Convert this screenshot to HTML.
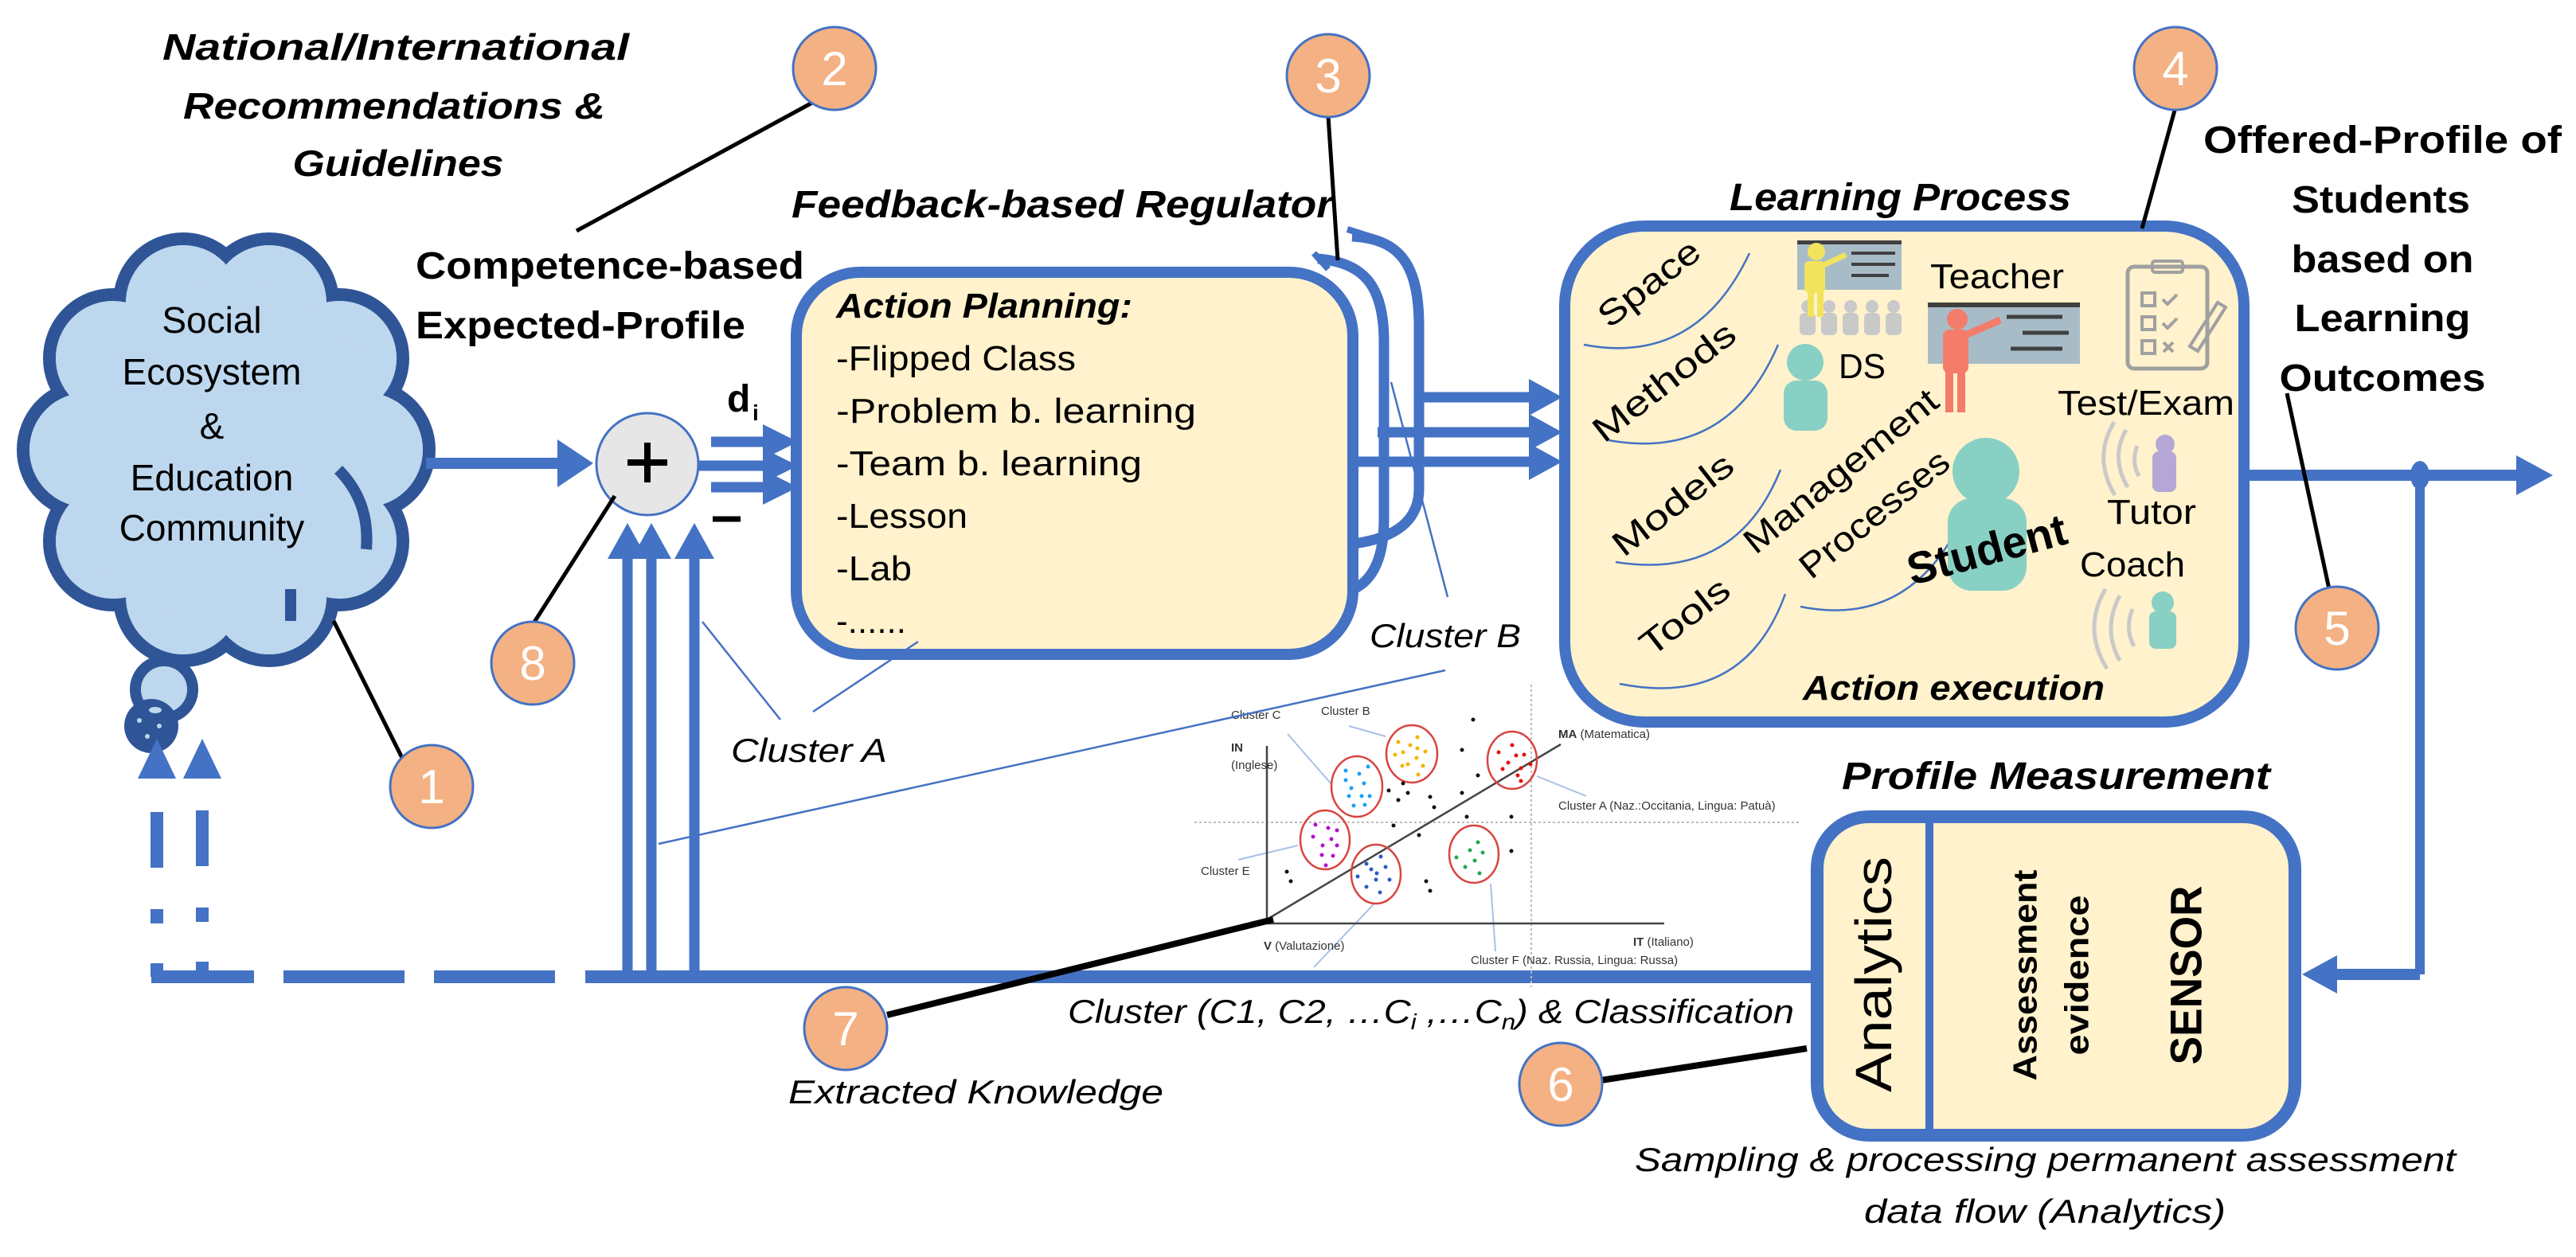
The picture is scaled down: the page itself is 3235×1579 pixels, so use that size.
<!DOCTYPE html>
<html><head><meta charset="utf-8"><style>
html,body{margin:0;padding:0;background:#fff;}
svg{display:block;}
text{font-family:"Liberation Sans",sans-serif;}
</style></head><body>
<svg width="3235" height="1579" viewBox="0 0 3235 1579" xmlns="http://www.w3.org/2000/svg">
<rect width="3235" height="1579" fill="#fff"/>

<!-- Cloud -->
<g stroke="#2F5597" stroke-width="16" fill="#BDD7EE">
<circle cx="459" cy="565" r="80"/><circle cx="426" cy="680" r="80"/><circle cx="338" cy="750" r="80"/><circle cx="230" cy="750" r="80"/><circle cx="142" cy="680" r="80"/><circle cx="109" cy="565" r="80"/><circle cx="142" cy="450" r="80"/><circle cx="230" cy="380" r="80"/><circle cx="338" cy="380" r="80"/><circle cx="426" cy="450" r="80"/>
</g>
<g fill="#BDD7EE">
<circle cx="459" cy="565" r="72"/><circle cx="426" cy="680" r="72"/><circle cx="338" cy="750" r="72"/><circle cx="230" cy="750" r="72"/><circle cx="142" cy="680" r="72"/><circle cx="109" cy="565" r="72"/><circle cx="142" cy="450" r="72"/><circle cx="230" cy="380" r="72"/><circle cx="338" cy="380" r="72"/><circle cx="426" cy="450" r="72"/>
<ellipse cx="284" cy="565" rx="200" ry="215"/>
</g>
<g fill="none" stroke="#2F5597" stroke-width="14">
<path d="M425,590 Q465,630 460,690"/>
<path d="M365,740 L365,780"/>
</g>
<circle cx="206" cy="866" r="36" fill="#BDD7EE" stroke="#2F5597" stroke-width="14"/>
<circle cx="190" cy="912" r="34" fill="#2F5597"/>
<g fill="#BDD7EE"><ellipse cx="195" cy="892" rx="8" ry="4"/><circle cx="175" cy="905" r="3"/><circle cx="200" cy="912" r="3"/><circle cx="185" cy="925" r="3"/></g>
<g font-size="46" text-anchor="middle" fill="#000">
<text x="266" y="418">Social</text>
<text x="266" y="483">Ecosystem</text>
<text x="266" y="551">&amp;</text>
<text x="266" y="616">Education</text>
<text x="266" y="679">Community</text>
</g>

<!-- Top-left texts -->
<g font-weight="bold" font-style="italic" font-size="46" text-anchor="middle">
<text x="497" y="75" textLength="586" lengthAdjust="spacingAndGlyphs">National/International</text>
<text x="495" y="149" textLength="530" lengthAdjust="spacingAndGlyphs">Recommendations &amp;</text>
<text x="500" y="221" textLength="265" lengthAdjust="spacingAndGlyphs">Guidelines</text>
</g>
<g font-weight="bold" font-size="48">
<text x="522" y="350" textLength="488" lengthAdjust="spacingAndGlyphs">Competence-based</text>
<text x="522" y="425" textLength="414" lengthAdjust="spacingAndGlyphs">Expected-Profile</text>
</g>
<text x="994" y="273" font-weight="bold" font-style="italic" font-size="48" textLength="680" lengthAdjust="spacingAndGlyphs">Feedback-based Regulator</text>
<text x="2172" y="264" font-weight="bold" font-style="italic" font-size="48" textLength="429" lengthAdjust="spacingAndGlyphs">Learning Process</text>
<g font-weight="bold" font-size="48" text-anchor="middle">
<text x="2992" y="192" textLength="450" lengthAdjust="spacingAndGlyphs">Offered-Profile of</text>
<text x="2990" y="267" textLength="224" lengthAdjust="spacingAndGlyphs">Students</text>
<text x="2992" y="342" textLength="229" lengthAdjust="spacingAndGlyphs">based on</text>
<text x="2992" y="416" textLength="221" lengthAdjust="spacingAndGlyphs">Learning</text>
<text x="2992" y="491" textLength="259" lengthAdjust="spacingAndGlyphs">Outcomes</text>
</g>

<!-- Blue connectors -->
<g stroke="#4472C4" fill="none">
<line x1="535" y1="582" x2="705" y2="582" stroke-width="14"/>
<line x1="893" y1="555" x2="965" y2="555" stroke-width="13"/>
<line x1="878" y1="585" x2="965" y2="585" stroke-width="13"/>
<line x1="893" y1="612" x2="965" y2="612" stroke-width="13"/>
<line x1="788" y1="1233" x2="788" y2="700" stroke-width="13"/>
<line x1="818" y1="1233" x2="818" y2="700" stroke-width="13"/>
<line x1="872" y1="1233" x2="872" y2="700" stroke-width="13"/>
<line x1="735" y1="1227" x2="2282" y2="1227" stroke-width="16"/>
<line x1="190" y1="1227" x2="319" y2="1227" stroke-width="16"/>
<line x1="356" y1="1227" x2="508" y2="1227" stroke-width="16"/>
<line x1="545" y1="1227" x2="697" y2="1227" stroke-width="16"/>
<line x1="197" y1="1020" x2="197" y2="1090" stroke-width="16"/>
<line x1="254" y1="1018" x2="254" y2="1088" stroke-width="16"/>
<line x1="197" y1="1142" x2="197" y2="1160" stroke-width="16"/>
<line x1="254" y1="1140" x2="254" y2="1158" stroke-width="16"/>
<line x1="197" y1="1210" x2="197" y2="1227" stroke-width="16"/>
<line x1="254" y1="1208" x2="254" y2="1227" stroke-width="16"/>
<line x1="1782" y1="499" x2="1925" y2="499" stroke-width="13"/>
<line x1="1730" y1="543" x2="1925" y2="543" stroke-width="13"/>
<line x1="1700" y1="580" x2="1925" y2="580" stroke-width="13"/>
<path d="M1655,325 C1710,330 1738,355 1738,430 L1738,652 Q1738,722 1700,740" stroke-width="13"/>
<path d="M1698,297 C1760,300 1782,335 1782,410 L1782,614 Q1782,672 1700,683" stroke-width="13"/>
<line x1="1650" y1="318" x2="1668" y2="338" stroke-width="8"/>
<line x1="1692" y1="288" x2="1730" y2="300" stroke-width="8"/>
<line x1="2818" y1="597" x2="3165" y2="597" stroke-width="14"/>
<line x1="3039" y1="597" x2="3039" y2="1224" stroke-width="12"/>
<line x1="3039" y1="1224" x2="2930" y2="1224" stroke-width="14"/>
</g>
<g fill="#4472C4">
<polygon points="700,552 745,582 700,612"/>
<polygon points="958,533 1002,555 958,577"/>
<polygon points="958,563 1002,585 958,607"/>
<polygon points="958,590 1002,612 958,634"/>
<polygon points="763,702 788,657 813,702"/>
<polygon points="793,702 818,657 843,702"/>
<polygon points="847,702 872,657 897,702"/>
<polygon points="173,978 197,928 221,978"/>
<polygon points="230,978 254,928 278,978"/>
<polygon points="1920,476 1962,499 1920,522"/>
<polygon points="1920,520 1962,543 1920,566"/>
<polygon points="1920,557 1962,580 1920,603"/>
<polygon points="3160,572 3206,597 3160,622"/>
<polygon points="2935,1200 2891,1224 2935,1248"/>
<ellipse cx="3039" cy="597" rx="12" ry="18"/>
</g>

<!-- Sum node -->
<circle cx="813" cy="583" r="64" fill="#E7E6E6" stroke="#4472C4" stroke-width="3"/>
<g stroke="#000" stroke-width="8"><line x1="788" y1="581" x2="838" y2="581"/><line x1="813" y1="556" x2="813" y2="606"/></g>
<text x="913" y="517" font-weight="bold" font-size="48">d</text>
<text x="945" y="528" font-weight="bold" font-size="28">i</text>
<line x1="895" y1="652" x2="930" y2="652" stroke="#000" stroke-width="7"/>

<!-- Action planning box -->
<rect x="1000" y="342" width="699" height="480" rx="80" fill="#FFF2CC" stroke="#4472C4" stroke-width="14"/>
<text x="1050" y="399" font-weight="bold" font-style="italic" font-size="44" textLength="372" lengthAdjust="spacingAndGlyphs">Action Planning:</text>
<g font-size="44">
<text x="1050" y="465" textLength="301" lengthAdjust="spacingAndGlyphs">-Flipped Class</text>
<text x="1050" y="531" textLength="452" lengthAdjust="spacingAndGlyphs">-Problem b. learning</text>
<text x="1050" y="597" textLength="384" lengthAdjust="spacingAndGlyphs">-Team b. learning</text>
<text x="1050" y="663" textLength="165" lengthAdjust="spacingAndGlyphs">-Lesson</text>
<text x="1050" y="729" textLength="95" lengthAdjust="spacingAndGlyphs">-Lab</text>
<text x="1050" y="795">-......</text>
</g>

<!-- Learning box -->
<rect x="1965" y="284" width="853" height="623" rx="100" fill="#FFF2CC" stroke="#4472C4" stroke-width="14"/>
<g fill="none" stroke="#4472C4" stroke-width="2.5">
<path d="M2197,318 Q2130,460 1989,433"/>
<path d="M2233,433 Q2170,580 2020,553"/>
<path d="M2236,590 Q2180,730 2029,706"/>
<path d="M2242,746 Q2190,890 2034,859"/>
<path d="M2466,648 Q2400,790 2261,762"/>
</g>
<g font-size="44" text-anchor="middle" dominant-baseline="central">
<text transform="translate(2071,356) rotate(-38)" textLength="150" lengthAdjust="spacingAndGlyphs">Space</text>
<text transform="translate(2090,480) rotate(-38)" textLength="215" lengthAdjust="spacingAndGlyphs">Methods</text>
<text transform="translate(2101,634) rotate(-38)" textLength="180" lengthAdjust="spacingAndGlyphs">Models</text>
<text transform="translate(2116,775) rotate(-38)" textLength="130" lengthAdjust="spacingAndGlyphs">Tools</text>
<text transform="translate(2312,592) rotate(-39)" textLength="300" lengthAdjust="spacingAndGlyphs">Management</text>
<text transform="translate(2354,646) rotate(-39)" textLength="228" lengthAdjust="spacingAndGlyphs">Processes</text>
</g>
<!-- icons -->
<rect x="2257" y="304" width="131" height="60" fill="#A8BCC8"/>
<rect x="2257" y="302" width="131" height="5" fill="#404040"/>
<g stroke="#404040" stroke-width="4"><line x1="2325" y1="318" x2="2380" y2="318"/><line x1="2325" y1="332" x2="2380" y2="332"/><line x1="2325" y1="346" x2="2372" y2="346"/></g>
<g fill="#C9C9C9">
<circle cx="2270" cy="385" r="8"/><rect x="2260" y="393" width="20" height="28" rx="6"/>
<circle cx="2297" cy="385" r="8"/><rect x="2287" y="393" width="20" height="28" rx="6"/>
<circle cx="2324" cy="385" r="8"/><rect x="2314" y="393" width="20" height="28" rx="6"/>
<circle cx="2351" cy="385" r="8"/><rect x="2341" y="393" width="20" height="28" rx="6"/>
<circle cx="2378" cy="385" r="8"/><rect x="2368" y="393" width="20" height="28" rx="6"/>
</g>
<g fill="#F2E35C"><circle cx="2281" cy="316" r="11"/><rect x="2266" y="328" width="26" height="40" rx="6"/><rect x="2270" y="360" width="8" height="38"/><rect x="2282" y="360" width="8" height="38"/></g>
<line x1="2288" y1="334" x2="2318" y2="320" stroke="#F2E35C" stroke-width="7"/>
<rect x="2421" y="382" width="191" height="75" fill="#A8BCC8"/>
<rect x="2421" y="380" width="191" height="6" fill="#404040"/>
<g stroke="#404040" stroke-width="5"><line x1="2520" y1="398" x2="2590" y2="398"/><line x1="2540" y1="418" x2="2598" y2="418"/><line x1="2525" y1="438" x2="2590" y2="438"/></g>
<g fill="#F47C6B"><circle cx="2458" cy="401" r="13"/><rect x="2440" y="414" width="32" height="55" rx="8"/><rect x="2443" y="460" width="10" height="58"/><rect x="2458" y="460" width="10" height="58"/></g>
<line x1="2466" y1="422" x2="2512" y2="402" stroke="#F47C6B" stroke-width="9"/>
<g fill="#88D0C4"><circle cx="2267" cy="455" r="23"/><rect x="2240" y="478" width="55" height="63" rx="16"/></g>
<rect x="2672" y="335" width="100" height="128" rx="8" fill="none" stroke="#A0A0A0" stroke-width="5"/>
<rect x="2703" y="328" width="38" height="14" rx="3" fill="none" stroke="#A0A0A0" stroke-width="4"/>
<g fill="none" stroke="#A0A0A0" stroke-width="4"><rect x="2690" y="368" width="16" height="16"/><rect x="2690" y="398" width="16" height="16"/><rect x="2690" y="428" width="16" height="16"/><path d="M2716,376 l6,6 l12,-12"/><path d="M2716,406 l6,6 l12,-12"/><path d="M2717,430 l12,12 M2729,430 l-12,12"/><path d="M2750,435 l35,-55 l10,6 l-35,55 z"/></g>
<g fill="#88D0C4"><ellipse cx="2494" cy="592" rx="42" ry="42"/><rect x="2446" y="626" width="99" height="116" rx="30"/></g>
<g fill="#B4A7D6"><circle cx="2719" cy="558" r="12"/><rect x="2703" y="567" width="30" height="51" rx="8"/></g>
<g fill="#88D0C4"><circle cx="2716" cy="757" r="14"/><rect x="2699" y="768" width="34" height="47" rx="8"/></g>
<g fill="none" stroke="#C9C9C9" stroke-width="5">
<path d="M2670,540 Q2650,575 2672,612"/><path d="M2655,530 Q2628,575 2656,622"/><path d="M2684,560 Q2676,580 2686,598"/>
<path d="M2662,748 Q2640,790 2662,830"/><path d="M2644,740 Q2615,790 2646,840"/><path d="M2678,765 Q2668,790 2680,812"/>
</g>
<text transform="translate(2495,690) rotate(-15)" font-weight="bold" font-size="56" text-anchor="middle" dominant-baseline="central" textLength="205" lengthAdjust="spacingAndGlyphs">Student</text>
<g font-size="44">
<text x="2424" y="362" textLength="168" lengthAdjust="spacingAndGlyphs">Teacher</text>
<text x="2309" y="475" textLength="59" lengthAdjust="spacingAndGlyphs">DS</text>
<text x="2584" y="521" textLength="222" lengthAdjust="spacingAndGlyphs">Test/Exam</text>
<text x="2646" y="658" textLength="112" lengthAdjust="spacingAndGlyphs">Tutor</text>
<text x="2612" y="724" textLength="132" lengthAdjust="spacingAndGlyphs">Coach</text>
</g>
<text x="2264" y="879" font-weight="bold" font-style="italic" font-size="44" textLength="379" lengthAdjust="spacingAndGlyphs">Action execution</text>

<!-- Profile measurement -->
<text x="2313" y="991" font-weight="bold" font-style="italic" font-size="48" textLength="538" lengthAdjust="spacingAndGlyphs">Profile Measurement</text>
<rect x="2282" y="1026" width="600" height="400" rx="65" fill="#FFF2CC" stroke="#4472C4" stroke-width="16"/>
<line x1="2423" y1="1026" x2="2423" y2="1426" stroke="#4472C4" stroke-width="10"/>
<text transform="translate(2353,1224) rotate(-90)" font-size="64" text-anchor="middle" dominant-baseline="central" textLength="296" lengthAdjust="spacingAndGlyphs">Analytics</text>
<text transform="translate(2543,1225) rotate(-90)" font-weight="bold" font-size="42" text-anchor="middle" dominant-baseline="central" textLength="265" lengthAdjust="spacingAndGlyphs">Assessment</text>
<text transform="translate(2608,1225) rotate(-90)" font-weight="bold" font-size="42" text-anchor="middle" dominant-baseline="central" textLength="201" lengthAdjust="spacingAndGlyphs">evidence</text>
<text transform="translate(2745,1225) rotate(-90)" font-weight="bold" font-size="56" text-anchor="middle" dominant-baseline="central" textLength="225" lengthAdjust="spacingAndGlyphs">SENSOR</text>
<g font-style="italic" font-size="42">
<text x="2053" y="1471" textLength="1031" lengthAdjust="spacingAndGlyphs">Sampling &amp; processing permanent assessment</text>
<text x="2341" y="1536" textLength="454" lengthAdjust="spacingAndGlyphs">data flow (Analytics)</text>
</g>

<!-- Scatter plot -->
<g stroke="#BBBBBB" stroke-width="2" stroke-dasharray="3,3"><line x1="1500" y1="1033" x2="2260" y2="1033"/><line x1="1923" y1="860" x2="1923" y2="1240"/></g>
<g stroke="#A9C0E8" stroke-width="2"><line x1="1617" y1="922" x2="1672" y2="985"/><line x1="1694" y1="912" x2="1740" y2="925"/><line x1="1930" y1="975" x2="1992" y2="1000"/><line x1="1555" y1="1080" x2="1630" y2="1062"/><line x1="1725" y1="1136" x2="1650" y2="1215"/><line x1="1872" y1="1110" x2="1878" y2="1195"/></g>
<g stroke="#444" stroke-width="2.5"><line x1="1591" y1="1160" x2="1591" y2="937"/><line x1="1591" y1="1160" x2="2090" y2="1160"/><line x1="1591" y1="1155" x2="1960" y2="935"/></g>
<g fill="none" stroke="#D9443F" stroke-width="2.5">
<ellipse cx="1704" cy="988" rx="32" ry="38"/><ellipse cx="1773" cy="947" rx="32" ry="36"/><ellipse cx="1899" cy="955" rx="31" ry="36"/><ellipse cx="1664" cy="1055" rx="31" ry="37"/><ellipse cx="1728" cy="1098" rx="31" ry="37"/><ellipse cx="1851" cy="1073" rx="31" ry="36"/>
</g>
<g fill="#1DA1F2"><circle cx="1690" cy="968" r="2.5"/><circle cx="1707" cy="972" r="2.5"/><circle cx="1718" cy="963" r="2.5"/><circle cx="1690" cy="980" r="2.5"/><circle cx="1713" cy="984" r="2.5"/><circle cx="1697" cy="990" r="2.5"/><circle cx="1710" cy="1000" r="2.5"/><circle cx="1694" cy="1000" r="2.5"/><circle cx="1720" cy="1000" r="2.5"/><circle cx="1700" cy="1012" r="2.5"/><circle cx="1714" cy="1011" r="2.5"/></g>
<g fill="#F5B400"><circle cx="1780" cy="926" r="2.5"/><circle cx="1756" cy="932" r="2.5"/><circle cx="1771" cy="936" r="2.5"/><circle cx="1780" cy="940" r="2.5"/><circle cx="1790" cy="944" r="2.5"/><circle cx="1752" cy="948" r="2.5"/><circle cx="1762" cy="945" r="2.5"/><circle cx="1779" cy="952" r="2.5"/><circle cx="1761" cy="962" r="2.5"/><circle cx="1768" cy="960" r="2.5"/><circle cx="1787" cy="962" r="2.5"/><circle cx="1781" cy="973" r="2.5"/></g>
<g fill="#E51010"><circle cx="1899" cy="936" r="2.5"/><circle cx="1882" cy="945" r="2.5"/><circle cx="1904" cy="949" r="2.5"/><circle cx="1914" cy="948" r="2.5"/><circle cx="1894" cy="958" r="2.5"/><circle cx="1922" cy="960" r="2.5"/><circle cx="1887" cy="966" r="2.5"/><circle cx="1910" cy="965" r="2.5"/><circle cx="1906" cy="974" r="2.5"/><circle cx="1910" cy="981" r="2.5"/></g>
<g fill="#B012D0"><circle cx="1652" cy="1036" r="2.5"/><circle cx="1668" cy="1040" r="2.5"/><circle cx="1679" cy="1043" r="2.5"/><circle cx="1649" cy="1051" r="2.5"/><circle cx="1672" cy="1054" r="2.5"/><circle cx="1661" cy="1062" r="2.5"/><circle cx="1679" cy="1062" r="2.5"/><circle cx="1660" cy="1074" r="2.5"/><circle cx="1674" cy="1075" r="2.5"/><circle cx="1665" cy="1087" r="2.5"/></g>
<g fill="#2B5CC4"><circle cx="1734" cy="1076" r="2.5"/><circle cx="1716" cy="1085" r="2.5"/><circle cx="1722" cy="1092" r="2.5"/><circle cx="1740" cy="1089" r="2.5"/><circle cx="1729" cy="1097" r="2.5"/><circle cx="1705" cy="1101" r="2.5"/><circle cx="1728" cy="1105" r="2.5"/><circle cx="1745" cy="1105" r="2.5"/><circle cx="1716" cy="1114" r="2.5"/><circle cx="1733" cy="1121" r="2.5"/></g>
<g fill="#1DAA4E"><circle cx="1856" cy="1058" r="2.5"/><circle cx="1846" cy="1068" r="2.5"/><circle cx="1862" cy="1071" r="2.5"/><circle cx="1829" cy="1077" r="2.5"/><circle cx="1852" cy="1081" r="2.5"/><circle cx="1840" cy="1089" r="2.5"/><circle cx="1858" cy="1097" r="2.5"/></g>
<g fill="#111"><circle cx="1850" cy="904" r="2.5"/><circle cx="1836" cy="942" r="2.5"/><circle cx="1856" cy="974" r="2.5"/><circle cx="1762" cy="984" r="2.5"/><circle cx="1744" cy="993" r="2.5"/><circle cx="1768" cy="996" r="2.5"/><circle cx="1756" cy="1005" r="2.5"/><circle cx="1796" cy="1001" r="2.5"/><circle cx="1836" cy="996" r="2.5"/><circle cx="1801" cy="1014" r="2.5"/><circle cx="1842" cy="1026" r="2.5"/><circle cx="1898" cy="1026" r="2.5"/><circle cx="1750" cy="1037" r="2.5"/><circle cx="1782" cy="1049" r="2.5"/><circle cx="1898" cy="1069" r="2.5"/><circle cx="1616" cy="1095" r="2.5"/><circle cx="1621" cy="1107" r="2.5"/><circle cx="1791" cy="1107" r="2.5"/><circle cx="1796" cy="1119" r="2.5"/></g>
<g font-size="15" fill="#333">
<text x="1546" y="903">Cluster C</text>
<text x="1659" y="898">Cluster B</text>
<text x="1546" y="944" font-weight="bold">IN</text>
<text x="1546" y="966">(Inglese)</text>
<text x="1957" y="927"><tspan font-weight="bold">MA</tspan> (Matematica)</text>
<text x="1957" y="1017">Cluster A (Naz.:Occitania, Lingua: Patuà)</text>
<text x="1508" y="1099">Cluster E</text>
<text x="1587" y="1193"><tspan font-weight="bold">V</tspan> (Valutazione)</text>
<text x="2051" y="1188"><tspan font-weight="bold">IT</tspan> (Italiano)</text>
<text x="1847" y="1211">Cluster  F (Naz. Russia, Lingua: Russa)</text>
</g>

<!-- Thin blue leader lines -->
<g stroke="#4472C4" stroke-width="2.5">
<line x1="882" y1="781" x2="980" y2="904"/>
<line x1="1153" y1="806" x2="1021" y2="894"/>
<line x1="1747" y1="480" x2="1818" y2="750"/>
<line x1="1815" y1="842" x2="827" y2="1060"/>
</g>
<g font-style="italic" font-size="42">
<text x="918" y="957" textLength="196" lengthAdjust="spacingAndGlyphs">Cluster A</text>
<text x="1720" y="813" textLength="190" lengthAdjust="spacingAndGlyphs">Cluster B</text>
<text x="1341" y="1285" textLength="912" lengthAdjust="spacingAndGlyphs">Cluster (C1, C2, …C<tspan font-size="28" dy="8">i</tspan><tspan dy="-8"> ,…C</tspan><tspan font-size="28" dy="8">n</tspan><tspan dy="-8">) &amp; Classification</tspan></text>
<text x="990" y="1386" textLength="471" lengthAdjust="spacingAndGlyphs">Extracted Knowledge</text>
</g>

<!-- Black leader lines -->
<g stroke="#000">
<line x1="1020" y1="129" x2="724" y2="290" stroke-width="5"/>
<line x1="1668" y1="146" x2="1680" y2="327" stroke-width="5"/>
<line x1="2732" y1="135" x2="2690" y2="287" stroke-width="5"/>
<line x1="2872" y1="494" x2="2925" y2="740" stroke-width="5"/>
<line x1="419" y1="780" x2="505" y2="952" stroke-width="5"/>
<line x1="772" y1="623" x2="670" y2="783" stroke-width="5"/>
<line x1="1599" y1="1155" x2="1114" y2="1275" stroke-width="8"/>
<line x1="2269" y1="1317" x2="2011" y2="1357" stroke-width="8"/>
</g>

<!-- Number circles -->
<g fill="#F4B183" stroke="#4472C4" stroke-width="3">
<circle cx="542" cy="988" r="52"/><circle cx="1048" cy="86" r="52"/><circle cx="1668" cy="95" r="52"/><circle cx="2732" cy="86" r="52"/><circle cx="2935" cy="789" r="52"/><circle cx="1960" cy="1362" r="52"/><circle cx="1062" cy="1292" r="52"/><circle cx="669" cy="833" r="52"/>
</g>
<g fill="#fff" font-size="60" text-anchor="middle">
<text x="542" y="1009">1</text><text x="1048" y="107">2</text><text x="1668" y="116">3</text><text x="2732" y="107">4</text><text x="2935" y="810">5</text><text x="1960" y="1383">6</text><text x="1062" y="1313">7</text><text x="669" y="854">8</text>
</g>
</svg>
</body></html>
